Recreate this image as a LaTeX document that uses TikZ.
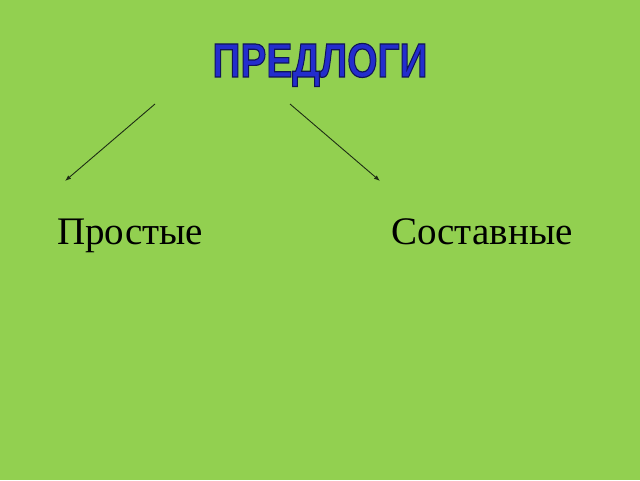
\documentclass[tikz,border=0pt]{standalone}
\usepackage{fontspec}
\setmainfont{Liberation Serif}
\newfontfamily\titlefont{Liberation Sans}
\usetikzlibrary{arrows.meta}
\definecolor{bg}{RGB}{146,208,80}
\definecolor{titleblue}{RGB}{35,45,205}
\definecolor{arrowcol}{RGB}{30,45,20}
\newcommand{\outlined}[1]{\textcolor{titleblue}{\special{pdf:literal direct 2 Tr 1.2 w 0.06 0.08 0.35 RG}#1\special{pdf:literal direct 0 Tr}}}
\tikzset{
  label/.style={font=\fontsize{39}{44}\selectfont, inner sep=0pt, anchor=base west, text=black},
  titletext/.style={font=\titlefont\bfseries\fontsize{48}{52}\selectfont, inner sep=0pt, anchor=base, xscale=0.81},
  conn/.style={draw=arrowcol, line width=0.9pt, -{Latex[length=6pt,width=4.5pt]}}
}
\begin{document}
\begin{tikzpicture}[x=1pt,y=1pt]
\fill[bg] (0,0) rectangle (640,480);
\useasboundingbox (0,0) rectangle (640,480);
\node[titletext] (t) at (320,403) {\outlined{ПРЕДЛОГИ}};
\node[label] (l) at (57,236) {Простые};
\node[label] (r) at (391,236) {Составные};
\coordinate (ls) at (155,376);
\coordinate (le) at (65,299);
\coordinate (rs) at (290,376);
\coordinate (re) at (380,299);
\draw[conn] (ls) -- (le);
\draw[conn] (rs) -- (re);
\end{tikzpicture}
\end{document}
